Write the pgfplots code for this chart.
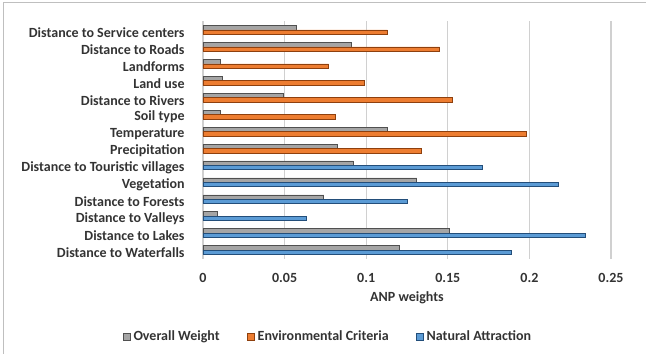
\documentclass[border=0pt]{standalone}
\usepackage{pgfplots}
\pgfplotsset{compat=1.18}
\usepackage{fontspec}
\setmainfont{Carlito}
\definecolor{cgray}{HTML}{A5A5A5}
\definecolor{cgrayd}{HTML}{505050}
\definecolor{corange}{HTML}{ED7D31}
\definecolor{corangeD}{HTML}{8E400E}
\definecolor{cblue}{HTML}{5B9BD5}
\definecolor{cblueD}{HTML}{234E7A}
\definecolor{gridc}{HTML}{D0D0D0}
\definecolor{framec}{HTML}{BFBFBF}
\begin{document}
\fontsize{14bp}{16bp}\selectfont
\begin{tikzpicture}
\useasboundingbox (-203bp,-95.5bp) rectangle (443bp,258.5bp);
\draw[framec, line width=1bp] (-199bp,-95.5bp) -- (-199bp,255.5bp) -- (443bp,255.5bp);
\begin{axis}[
  at={(0,0)}, anchor=south west,
  scale only axis, width=408bp, height=237bp,
  xmin=0, xmax=0.25, ymin=-0.5, ymax=13.5,
  xbar, bar width=0.26,
  xtick={0,0.05,0.1,0.15,0.2,0.25},
  xticklabels={0,0.05,0.1,0.15,0.2,0.25},
  ytick={0,1,2,3,4,5,6,7,8,9,10,11,12,13},
  yticklabels={Distance to Waterfalls,Distance to Lakes,Distance to Valleys,Distance to Forests,Vegetation,Distance to Touristic villages,Precipitation,Temperature,Soil type,Distance to Rivers,Land use,Landforms,Distance to Roads,Distance to Service centers},
  xmajorgrids, major grid style={draw=gridc, line width=1.3bp},
  axis line style={draw=none}, tick style={draw=none},
  /pgf/number format/assume math mode=true,
  tick label style={font=\fontsize{14bp}{16bp}\selectfont\bfseries, text=black!80},
  yticklabel style={anchor=east, inner sep=0pt, xshift=-14bp, yshift=-2.5bp},
  xticklabel style={anchor=center, inner sep=0pt, yshift=-19bp},
  xlabel={ANP weights},
  xlabel style={at={(axis description cs:0.5,0)}, anchor=center, yshift=-39bp, font=\fontsize{14bp}{16bp}\selectfont\bfseries, text=black!80},
  legend columns=3,
  legend style={at={(0.306,-0.33)}, anchor=center, draw=none, fill=none,
    font=\fontsize{14bp}{16bp}\selectfont\bfseries, text=black!80,
    /tikz/every even column/.append style={column sep=26bp},
    /tikz/every odd column/.append style={column sep=1.5bp},
    inner sep=0pt, nodes={inner sep=1.5bp}},
  legend image code/.code={\draw[#1, line width=0.5bp] (0bp,-3.5bp) rectangle (7bp,3.5bp);},
  clip=false,
]
\addplot[fill=cgray, draw=cgrayd, line width=0.6bp, bar shift=0.13] coordinates {
 (0.120,0) (0.151,1) (0.009,2) (0.074,3) (0.131,4) (0.092,5)
 (0.082,6) (0.113,7) (0.0105,8) (0.049,9) (0.012,10) (0.0105,11) (0.091,12) (0.057,13)};
\addlegendentry{Overall Weight}
\addplot[fill=corange, draw=corangeD, line width=0.6bp, bar shift=-0.13] coordinates {
 (0.134,6) (0.198,7) (0.081,8) (0.153,9) (0.099,10) (0.077,11) (0.145,12) (0.113,13)};
\addlegendentry{Environmental Criteria}
\addplot[fill=cblue, draw=cblueD, line width=0.6bp, bar shift=-0.13] coordinates {
 (0.189,0) (0.234,1) (0.063,2) (0.125,3) (0.218,4) (0.171,5)};
\addlegendentry{Natural Attraction}
\end{axis}
\end{tikzpicture}
\end{document}
